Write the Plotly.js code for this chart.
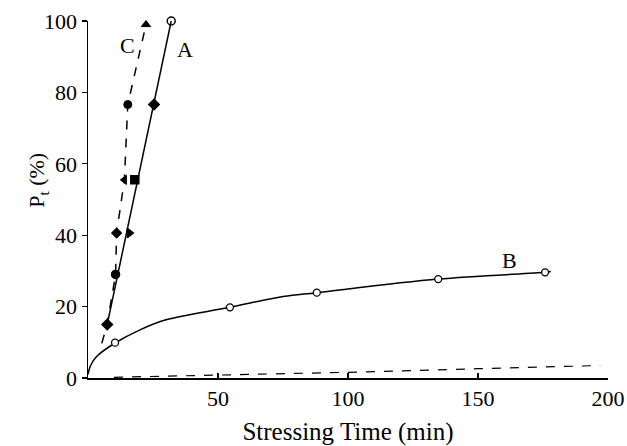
<!DOCTYPE html>
<html>
<head>
<meta charset="utf-8">
<script src="https://cdn.plot.ly/plotly-3.0.1.min.js"></script>
<style>html,body{margin:0;padding:0;background:#fff;}#chart{width:627px;height:446px;}</style>
</head>
<body>
<div id="chart"></div>
<script>
// Curve A (solid) measured points
const aX = [7.4, 10.6, 15.9, 18, 25.4, 32];
const aY = [15, 29, 40.6, 55.5, 76.6, 100];
const aSymbols = ['diamond', 'circle', 'triangle-right', 'square', 'diamond', 'circle-open'];
// Curve A fitted line
const aLineX = [7.4, 32];
const aLineY = [15, 100];

// Curve C (dashed) measured points
const cX = [11, 14, 15.3, 22.3];
const cY = [40.6, 55.5, 76.6, 99];
const cSymbols = ['diamond', 'triangle-left', 'circle', 'triangle-up'];
// Curve C dashed path
const cLineX = [5.3, 7.3, 10.6, 11, 14, 15.3, 22.3];
const cLineY = [9.7, 14.9, 28.9, 40.6, 55.5, 76.6, 99];

// Curve B measured points
const bX = [10.4, 54.6, 88, 134.7, 175.8];
const bY = [9.9, 19.8, 23.9, 27.7, 29.6];
// Curve B smooth line
const bLineX = [0, 1, 3.3, 10.4, 20, 30, 54.6, 75, 88, 134.7, 175.8, 178];
const bLineY = [1, 3.5, 6, 9.8, 13.5, 16.3, 19.8, 22.8, 23.9, 27.7, 29.6, 29.8];

// Curve D dashed line
const dLineX = [10, 50, 100, 150, 197];
const dLineY = [0.2, 0.8, 1.6, 2.6, 3.5];

// Axis ticks
const xTicks = [50, 100, 150, 200];
const yTicks = [0, 20, 40, 60, 80, 100];

// Curve labels
const labelText = ['A', 'C', 'B', 'D'];
const labelX = [37.3, 15.3, 162, 203];
const labelY = [92, 93, 33, 6.5];

const FONT = 'Liberation Serif, DejaVu Serif, serif';

const traces = [
  {x: aLineX, y: aLineY, mode: 'lines', line: {color: '#000', width: 1.5}, hoverinfo: 'skip'},
  {x: cLineX, y: cLineY, mode: 'lines', line: {color: '#000', width: 1.5, dash: 'dash'}, hoverinfo: 'skip'},
  {x: bLineX, y: bLineY, mode: 'lines', line: {color: '#000', width: 1.5, shape: 'spline'}, hoverinfo: 'skip'},
  {x: dLineX, y: dLineY, mode: 'lines', line: {color: '#000', width: 1.2, dash: 'dash'}, hoverinfo: 'skip'},
  {x: aX, y: aY, mode: 'markers', cliponaxis: false, marker: {color: '#000', size: 8, symbol: aSymbols, line: {color: '#000', width: 1.5}}},
  {x: cX, y: cY, mode: 'markers', cliponaxis: false, marker: {color: '#000', size: 8, symbol: cSymbols, line: {color: '#000', width: 1}}},
  {x: bX, y: bY, mode: 'markers', cliponaxis: false, marker: {color: '#fff', size: 7, symbol: 'circle', line: {color: '#000', width: 1.3}}}
];

const annotations = labelText.map((t, i) => ({
  x: labelX[i], y: labelY[i], xref: 'x', yref: 'y', text: t, showarrow: false,
  font: {family: FONT, size: 22, color: '#000'}
}));
annotations.push({
  xref: 'paper', yref: 'paper', x: -0.127, y: 0.555, text: 'P<sub>t</sub> (%)',
  textangle: -90, showarrow: false, font: {family: FONT, size: 22, color: '#000'}
});

const layout = {
  width: 627, height: 446, autosize: false,
  margin: {l: 88, r: 19, t: 21, b: 68, pad: 0},
  paper_bgcolor: '#fff', plot_bgcolor: '#fff',
  showlegend: false,
  font: {family: FONT, color: '#000'},
  xaxis: {
    range: [0, 200], tickvals: xTicks, ticktext: xTicks.map(String),
    showline: true, linecolor: '#000', linewidth: 1.5, mirror: false,
    ticks: 'inside', ticklen: 5, tickwidth: 1.2, tickcolor: '#000',
    showgrid: false, zeroline: false,
    tickfont: {family: FONT, size: 22, color: '#000'},
    title: {text: 'Stressing Time (min)', font: {family: FONT, size: 25, color: '#000'}, standoff: 14}
  },
  yaxis: {
    range: [0, 100], tickvals: yTicks, ticktext: yTicks.map(String),
    showline: true, linecolor: '#000', linewidth: 1.5,
    ticks: 'outside', ticklen: 5, tickwidth: 1.2, tickcolor: '#000',
    showgrid: false, zeroline: false,
    tickfont: {family: FONT, size: 22, color: '#000'}
  },
  annotations: annotations
};

Plotly.newPlot('chart', traces, layout, {staticPlot: true, displayModeBar: false});
</script>
</body>
</html>
